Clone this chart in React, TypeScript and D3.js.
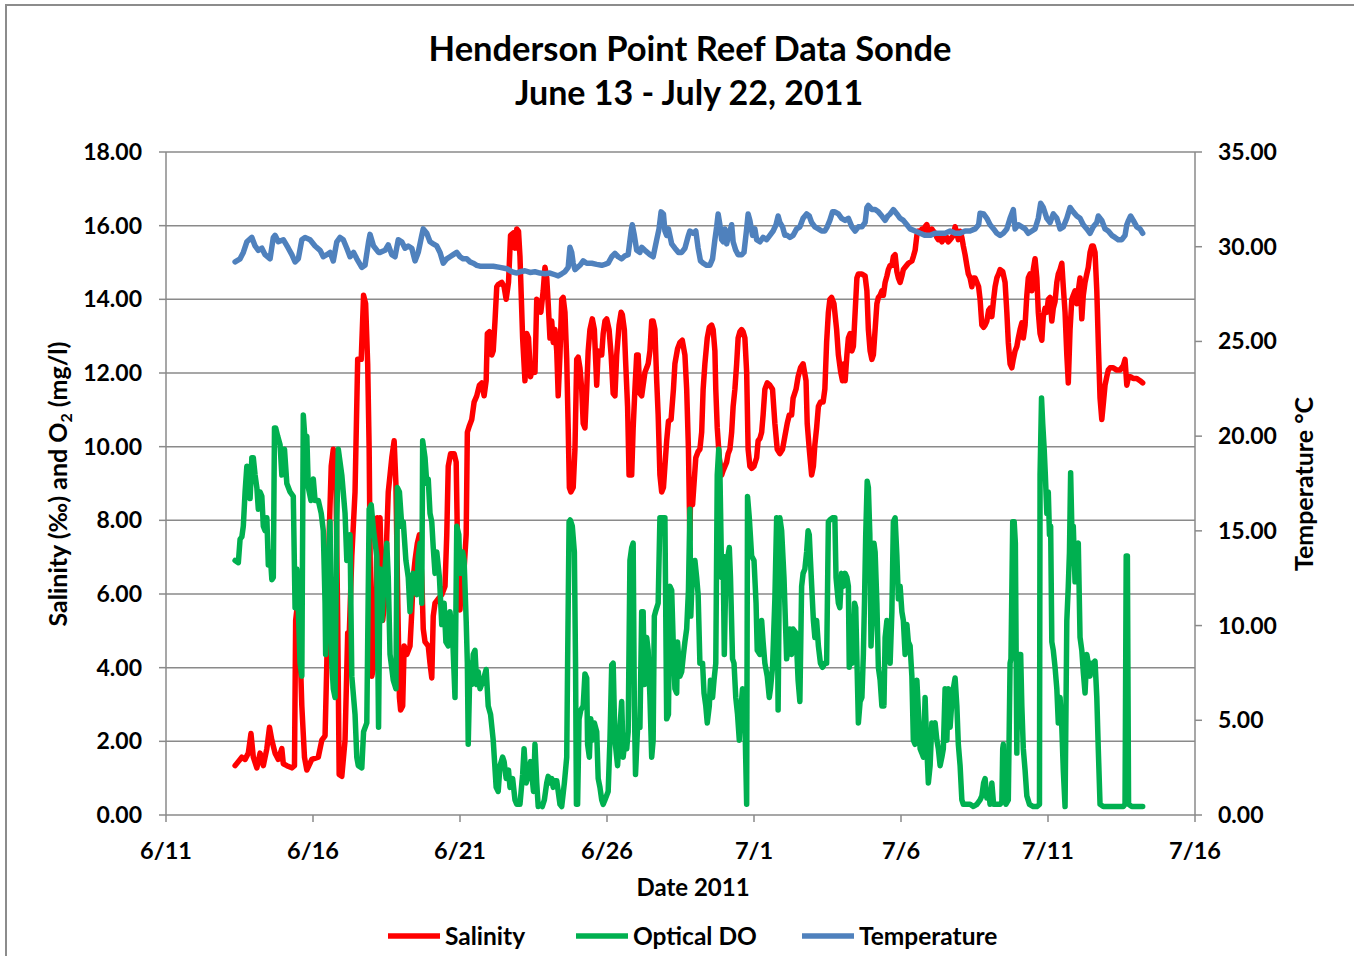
import React from "react";
import * as d3 from "d3";

// ---- data: [June-day (31 = July 1), value] ----
const salinityData: [number, number][] = [
  [13.35,1.34],[13.46,1.45],[13.58,1.57],[13.69,1.51],[13.80,1.68],[13.89,2.21],[13.97,1.57],[14.09,1.28],[14.20,1.68],[14.31,1.34],
  [14.43,1.80],[14.52,2.38],[14.60,2.03],[14.71,1.68],[14.82,1.51],[14.94,1.80],[14.99,1.39],[15.11,1.34],[15.28,1.28],[15.37,1.34],
  [15.41,5.28],[15.45,5.57],[15.53,5.28],[15.62,2.96],[15.71,1.57],[15.79,1.22],[15.96,1.51],[16.18,1.57],[16.30,2.03],[16.41,2.15],
  [16.47,4.12],[16.55,7.61],[16.62,9.47],[16.69,9.93],[16.77,9.70],[16.84,5.28],[16.89,1.10],[16.98,1.05],[17.09,2.03],[17.18,4.94],
  [17.23,4.82],[17.32,7.03],[17.43,8.77],[17.52,12.37],[17.64,12.37],[17.72,14.11],[17.79,13.88],[17.86,12.25],[17.91,9.93],[17.95,6.45],
  [18.00,3.77],[18.09,4.12],[18.19,8.07],[18.25,7.96],
  [18.28,8.07],[18.37,5.28],[18.45,5.87],[18.51,7.61],[18.56,8.77],[18.62,9.23],[18.68,9.70],[18.76,10.16],[18.82,9.00],[18.87,6.45],
  [18.94,3.19],[18.98,2.85],[19.05,2.96],[19.10,4.59],[19.19,4.36],[19.30,4.59],[19.36,5.52],[19.41,6.45],[19.47,6.91],[19.55,7.38],
  [19.62,7.61],[19.70,6.45],[19.75,5.05],[19.81,4.70],[19.92,4.59],[19.98,4.12],[20.04,3.72],[20.09,5.40],[20.15,5.75],[20.26,5.87],
  [20.38,5.98],[20.49,6.21],[20.55,7.61],[20.60,9.47],[20.68,9.81],[20.80,9.81],[20.87,9.58],[20.91,7.61],[20.96,5.63],[21.00,5.57],
  [21.06,6.45],[21.14,6.68],[21.21,7.61],[21.25,10.39],[21.32,10.57],[21.40,10.74],[21.48,11.21],[21.57,11.38],[21.66,11.67],[21.74,11.73],
  [21.82,11.38],[21.89,11.79],[21.93,13.07],[22.00,13.12],[22.08,12.49],[22.13,12.60],[22.19,13.41],[22.25,14.34],[22.30,14.40],[22.42,14.46],
  [22.50,14.34],[22.57,14.00],[22.65,14.46],[22.72,15.74],[22.81,15.80],[22.87,15.39],[22.93,15.91],[22.99,15.85],[23.04,15.16],[23.13,12.95],
  [23.21,11.79],[23.27,13.07],[23.33,12.95],[23.40,11.90],[23.47,12.14],
  [23.55,12.02],[23.61,14.00],[23.69,13.88],[23.75,13.65],[23.83,14.23],[23.89,14.87],[23.95,14.58],[24.00,13.88],[24.06,12.95],[24.12,13.41],
  [24.17,12.83],[24.23,13.18],[24.29,12.60],[24.34,11.38],[24.40,12.49],[24.46,14.00],[24.51,14.05],[24.57,13.65],[24.63,12.37],[24.68,10.51],
  [24.72,8.89],[24.77,8.77],[24.85,8.89],[24.91,9.93],[24.97,12.37],[25.02,12.43],[25.08,12.14],[25.14,11.56],[25.19,10.63],[25.25,10.51],
  [25.31,11.56],[25.36,12.60],[25.42,13.18],[25.50,13.47],[25.57,13.18],[25.65,11.67],[25.70,12.60],[25.76,12.49],[25.82,12.49],[25.87,13.07],
  [25.93,13.41],[25.99,13.47],[26.07,13.18],[26.14,12.49],[26.21,11.44],[26.27,11.38],[26.33,12.49],[26.41,13.30],[26.48,13.65],[26.52,13.59],
  [26.59,13.18],[26.63,12.37],[26.70,11.09],[26.75,9.23],[26.84,9.23],[26.89,10.51],[26.95,11.56],[27.01,12.49],[27.06,12.49],[27.12,11.44],
  [27.18,11.38],[27.23,11.67],[27.29,12.02],[27.35,12.14],[27.40,12.25],[27.46,12.60],[27.52,13.41],[27.57,13.41],[27.63,13.18],[27.69,11.79],
  [27.74,10.86],[27.80,9.23],[27.86,8.77],[27.92,8.89],[27.97,9.47],[28.03,10.16],[28.09,10.69],[28.18,10.74],[28.26,11.56],[28.31,12.25],
  [28.40,12.66],[28.48,12.83],[28.56,12.89],[28.65,12.49],[28.71,11.56],[28.77,9.93],
  [28.82,7.49],[28.85,9.12],[28.91,8.42],[28.96,9.00],[29.02,9.70],[29.10,9.87],[29.16,9.93],[29.22,10.39],[29.27,11.56],[29.33,12.25],
  [29.41,12.95],[29.48,13.24],[29.56,13.30],[29.61,13.18],[29.67,12.60],[29.70,11.56],[29.75,10.51],[29.82,9.70],[29.90,9.23],[29.95,9.35],
  [30.07,9.58],[30.12,9.81],[30.18,9.93],[30.24,10.39],[30.29,11.09],[30.35,11.56],[30.41,12.25],[30.46,12.95],[30.52,13.12],[30.58,13.18],
  [30.63,13.12],[30.69,12.95],[30.75,12.02],[30.80,9.93],[30.86,9.47],[30.92,9.41],[31.00,9.47],[31.09,9.70],[31.14,10.16],[31.20,10.22],
  [31.26,10.39],[31.31,10.86],[31.37,11.56],[31.45,11.73],[31.54,11.67],[31.63,11.56],[31.71,10.63],[31.79,9.93],[31.88,9.81],[31.97,9.93],
  [32.05,10.28],[32.13,10.63],[32.20,10.86],[32.28,10.86],[32.33,11.32],[32.43,11.56],[32.50,11.90],[32.58,12.14],[32.67,12.25],[32.77,11.79],
  [32.81,10.63],[32.88,9.93],[32.96,9.23],[33.02,9.47],[33.07,10.05],[33.13,10.51],[33.19,11.09],[33.26,11.21],[33.35,11.21],[33.41,11.56],
  [33.47,12.83],[33.53,13.65],[33.58,14.00],[33.64,14.05],[33.72,13.88],[33.81,13.18],[33.87,12.49],[33.95,12.02],[34.01,11.79],[34.06,12.25],
  [34.10,11.79],[34.16,12.49],[34.21,12.95],[34.27,13.07],[34.33,12.60],[34.38,12.72],[34.44,13.65],[34.50,14.58],[34.55,14.69],[34.67,14.69],
  [34.78,14.63],[34.84,14.23],[34.89,13.18],[34.95,12.60],[35.01,12.37],[35.06,12.49],[35.12,13.18],[35.18,13.88],[35.23,14.05],[35.29,14.11],
  [35.35,14.23],[35.40,14.11],[35.46,14.46],[35.52,14.63],[35.57,14.81],[35.63,14.92],[35.69,14.92],[35.74,15.16],[35.80,15.21],[35.86,14.75],
  [35.91,14.58],[35.97,14.46],[36.03,14.63],[36.08,14.81],[36.14,14.87],[36.25,14.98],[36.37,15.04],[36.42,15.16],[36.48,15.33],[36.54,15.74],
  [36.59,15.85],[36.65,15.80],[36.71,15.91],[36.76,15.85],[36.82,15.97],[36.88,16.03],[36.93,15.85],[36.99,15.80],[37.05,15.91],[37.10,15.85],
  [37.16,15.80],[37.22,15.68],[37.27,15.62],[37.33,15.74],[37.39,15.56],[37.44,15.68],[37.50,15.62],[37.56,15.68],[37.61,15.56],[37.67,15.62],
  [37.73,15.68],[37.78,15.74],[37.84,15.97],[37.90,15.80],[37.95,15.62],[38.01,15.85],[38.07,15.68],[38.12,15.45],[38.18,15.21],[38.24,14.92],
  [38.29,14.69],[38.35,14.58],[38.41,14.34],[38.46,14.58],[38.52,14.58],[38.58,14.46],[38.64,14.34],[38.69,14.00],[38.75,13.30],[38.81,13.24],
  [38.86,13.30],[38.92,13.41],[38.98,13.70],[39.03,13.76],[39.09,13.53],[39.15,14.00],[39.20,14.34],[39.26,14.58],[39.32,14.69],
  [39.37,14.81],[39.46,14.75],[39.54,14.46],[39.60,13.65],[39.65,12.83],[39.71,12.25],[39.77,12.14],[39.82,12.37],[39.88,12.60],[39.94,12.72],
  [39.99,12.95],[40.05,13.18],[40.11,13.36],[40.16,12.95],[40.22,13.30],[40.28,14.11],[40.33,14.58],[40.39,14.69],[40.45,14.23],[40.50,14.81],
  [40.56,15.10],[40.62,14.58],[40.67,13.65],[40.73,13.07],[40.79,12.89],[40.84,13.53],[40.90,13.76],[40.96,13.65],[41.01,14.00],[41.07,14.05],
  [41.13,13.41],[41.18,13.76],[41.24,13.94],[41.30,14.46],[41.35,14.69],[41.41,14.81],[41.47,14.98],[41.52,14.34],[41.58,13.65],[41.64,12.49],
  [41.69,11.73],[41.75,13.18],[41.81,14.00],[41.86,14.11],[41.92,14.23],[41.98,13.88],[42.03,14.23],[42.09,14.58],[42.15,13.47],[42.20,14.11],
  [42.26,14.46],[42.32,14.69],[42.37,14.87],[42.43,15.27],[42.49,15.45],[42.54,15.45],[42.60,15.27],[42.66,14.23],[42.71,12.83],[42.77,11.32],
  [42.83,10.74],[42.88,11.15],[42.94,11.67],[43.00,11.90],[43.05,12.08],[43.11,12.14],[43.22,12.14],[43.34,12.08],[43.45,12.08],[43.56,12.20],
  [43.62,12.37],[43.68,11.67],[43.74,11.90],[43.81,11.90],[43.90,11.85],[44.02,11.85],[44.13,11.79],[44.22,11.73],
];

const oxygenData: [number, number][] = [
  [13.35,6.91],[13.46,6.85],[13.52,7.49],[13.58,7.55],[13.63,7.84],[13.69,8.77],[13.75,9.47],[13.80,9.41],[13.86,8.59],[13.92,9.70],
  [13.97,9.70],[14.03,9.23],[14.09,8.89],[14.14,8.30],[14.20,8.77],[14.26,8.65],[14.31,7.84],[14.37,7.72],[14.43,8.07],[14.48,6.79],
  [14.54,7.14],[14.60,6.39],[14.65,6.45],[14.69,10.51],[14.73,10.51],[14.80,10.28],[14.88,10.05],[14.94,9.23],[15.03,9.93],[15.11,9.00],
  [15.22,8.77],[15.33,8.65],[15.39,5.63],[15.45,6.68],[15.50,5.63],[15.56,4.12],[15.62,3.77],[15.67,10.86],[15.73,10.16],[15.79,10.28],
  [15.84,8.89],[15.93,8.54],[16.01,9.12],[16.07,8.54],[16.18,8.54],[16.28,8.19],[16.35,7.72],[16.41,5.75],[16.43,4.36],[16.52,6.45],
  [16.58,7.96],[16.64,4.12],[16.69,3.43],[16.75,3.19],[16.81,7.96],[16.86,9.93],[16.98,9.23],[17.09,8.19],[17.15,6.91],[17.26,7.61],
  [17.32,3.77],[17.43,2.73],[17.49,1.57],[17.54,1.34],[17.66,1.28],[17.72,2.26],[17.83,2.50],[17.91,8.30],[17.98,8.42],[18.06,7.72],
  [18.17,7.03],[18.23,2.38],
  [18.28,6.68],[18.34,5.28],[18.39,5.98],[18.45,6.68],[18.51,7.38],[18.56,6.45],[18.62,4.36],[18.73,3.66],[18.82,3.43],[18.87,8.89],
  [18.94,8.77],[19.02,7.84],[19.07,7.96],[19.16,6.91],[19.24,6.45],[19.30,5.52],[19.36,6.21],[19.41,6.56],[19.47,6.45],[19.53,5.98],
  [19.58,7.03],[19.64,7.38],[19.70,5.75],[19.73,10.16],[19.81,9.70],[19.87,9.00],[19.92,9.12],[19.98,8.19],[20.04,7.96],[20.09,7.26],
  [20.15,6.56],[20.21,7.14],[20.30,6.45],[20.38,5.17],[20.46,5.75],[20.52,4.70],[20.60,4.59],[20.66,5.52],[20.75,4.82],[20.83,3.19],
  [20.89,7.84],[20.96,7.61],[21.00,6.56],[21.09,7.14],[21.14,6.91],[21.21,5.28],[21.25,4.12],[21.28,1.92],[21.34,4.12],[21.40,3.54],
  [21.45,4.36],[21.51,4.47],[21.57,3.54],[21.62,3.89],[21.68,3.43],[21.79,3.66],[21.89,3.95],[21.96,2.96],[22.04,2.73],[22.13,2.03],
  [22.23,0.75],[22.30,0.64],[22.36,1.34],[22.45,1.57],[22.50,1.45],[22.57,0.99],[22.65,1.22],[22.70,0.75],[22.79,0.99],[22.87,0.41],
  [22.93,0.29],[23.04,0.29],[23.13,1.10],[23.18,1.80],[23.25,0.87],[23.33,1.10],[23.40,1.45],[23.50,0.64],
  [23.55,1.92],[23.61,0.87],[23.66,0.23],[23.72,0.29],[23.80,0.23],[23.87,0.41],[23.95,0.87],[24.00,1.05],[24.06,0.87],[24.12,0.99],
  [24.17,0.75],[24.23,0.93],[24.29,0.93],[24.34,0.64],[24.40,0.29],[24.46,0.23],[24.55,0.87],[24.63,1.57],[24.66,4.12],[24.71,7.96],
  [24.75,8.01],[24.82,7.84],[24.89,7.14],[24.93,4.12],[24.96,0.29],[25.00,0.29],[25.05,2.61],[25.11,2.85],[25.19,2.96],[25.25,3.83],
  [25.31,3.72],[25.34,1.92],[25.40,1.57],[25.45,2.61],[25.50,2.03],[25.57,2.50],[25.65,2.26],[25.70,0.99],[25.76,0.75],[25.82,0.41],
  [25.87,0.29],[25.93,0.41],[26.04,0.64],[26.10,2.03],[26.16,4.07],[26.21,4.12],[26.27,2.03],[26.36,1.34],[26.44,2.38],[26.50,3.08],
  [26.55,1.57],[26.61,2.03],[26.67,1.80],[26.72,2.26],[26.78,6.91],[26.84,7.26],[26.89,7.38],[26.93,2.96],[26.97,1.10],[27.04,2.38],
  [27.12,2.38],[27.18,5.52],[27.23,5.52],[27.27,3.54],[27.35,4.82],[27.40,4.47],[27.46,3.19],[27.52,1.57],[27.57,2.03],[27.61,5.40],
  [27.65,5.52],[27.74,5.75],[27.80,8.07],[27.88,8.07],[27.97,8.07],[28.03,2.61],[28.09,2.73],[28.14,6.21],[28.20,6.10],[28.26,4.47],
  [28.31,3.43],[28.37,3.31],[28.40,4.70],[28.48,3.77],[28.54,3.89],[28.60,4.36],[28.65,4.70],[28.71,5.05],[28.77,6.10],
  [28.82,8.30],[28.85,5.40],[28.91,6.68],[28.99,6.91],[29.05,6.45],[29.10,5.98],[29.16,4.12],[29.25,4.12],[29.30,3.31],[29.36,2.96],
  [29.41,2.50],[29.48,2.96],[29.52,3.66],[29.59,3.19],[29.64,3.66],[29.70,4.12],[29.75,9.23],[29.80,9.93],[29.84,9.35],[29.90,6.45],
  [29.95,7.03],[29.99,4.36],[30.04,6.45],[30.09,6.91],[30.16,7.26],[30.20,6.45],[30.27,4.24],[30.32,4.12],[30.38,3.19],[30.44,2.73],
  [30.50,2.03],[30.54,2.73],[30.61,3.43],[30.69,2.61],[30.75,0.29],[30.78,8.65],[30.84,8.07],[30.92,7.03],[31.00,6.91],[31.07,5.75],
  [31.11,4.47],[31.20,4.36],[31.26,5.28],[31.31,4.70],[31.37,4.12],[31.45,3.77],[31.52,3.19],[31.56,3.43],[31.63,4.01],[31.71,5.87],
  [31.77,8.07],[31.82,2.85],[31.88,8.07],[31.94,7.72],[32.02,6.45],[32.11,4.24],[32.16,4.59],[32.22,5.05],[32.28,4.36],[32.33,5.05],
  [32.43,4.94],[32.50,3.66],[32.56,3.08],[32.62,6.21],[32.67,6.56],[32.73,6.68],[32.79,7.14],[32.84,7.72],[32.88,7.61],[32.92,6.91],
  [33.02,5.28],[33.07,4.82],[33.13,5.28],[33.19,4.59],[33.26,4.12],[33.33,4.01],[33.41,4.12],[33.47,4.12],[33.53,7.96],[33.58,8.01],
  [33.67,8.07],[33.75,8.07],[33.79,6.45],[33.87,5.75],[33.92,5.63],[33.98,6.56],[34.04,6.21],
  [34.10,6.56],[34.16,6.45],[34.21,6.21],[34.24,4.01],[34.27,4.36],[34.33,4.12],[34.38,4.70],[34.42,5.75],[34.46,5.63],[34.51,3.89],
  [34.55,2.50],[34.61,3.08],[34.67,3.19],[34.72,4.36],[34.76,5.87],[34.80,7.61],[34.85,9.06],[34.89,8.89],[34.94,7.61],[34.98,4.59],
  [35.03,5.52],[35.08,7.38],[35.12,7.14],[35.18,5.75],[35.23,4.01],[35.29,3.66],[35.35,2.96],[35.38,3.43],[35.42,2.96],[35.46,4.82],
  [35.52,5.28],[35.57,4.70],[35.63,4.12],[35.69,5.52],[35.74,7.96],[35.80,8.07],[35.86,7.03],[35.91,5.87],[35.97,6.21],[36.03,5.52],
  [36.08,5.28],[36.14,4.36],[36.20,5.17],[36.25,4.70],[36.31,4.59],[36.37,3.77],[36.42,2.03],[36.48,1.92],[36.54,3.66],[36.59,2.85],
  [36.65,1.80],[36.71,1.68],[36.76,1.57],[36.82,3.19],[36.88,1.80],[36.93,0.87],[36.99,1.34],[37.05,2.50],[37.10,2.38],[37.16,2.50],
  [37.22,2.03],[37.27,1.80],[37.33,1.34],[37.39,1.57],[37.44,1.80],[37.50,3.43],[37.56,2.03],[37.61,3.43],[37.67,2.38],[37.73,3.08],
  [37.78,3.43],[37.84,3.72],[37.90,2.96],[37.95,1.92],[38.01,1.34],[38.07,0.41],[38.12,0.29],[38.24,0.29],[38.35,0.29],[38.46,0.23],
  [38.58,0.29],[38.69,0.41],[38.75,0.52],[38.81,0.87],[38.86,0.99],[38.92,0.46],[38.98,0.64],[39.03,0.29],[39.09,0.87],[39.15,0.29],
  [39.26,0.29],
  [39.37,0.29],[39.43,0.35],[39.46,1.80],[39.48,1.92],[39.52,0.52],[39.57,0.29],[39.65,0.41],[39.71,4.12],[39.74,4.24],[39.80,7.96],
  [39.85,7.96],[39.89,7.38],[39.94,1.68],[39.97,3.89],[40.03,4.36],[40.07,4.36],[40.11,2.96],[40.16,1.80],[40.22,1.22],[40.28,0.52],
  [40.37,0.29],[40.50,0.23],[40.62,0.23],[40.71,0.29],[40.73,9.23],[40.78,11.32],[40.82,10.63],[40.87,9.93],[40.91,9.23],[40.96,8.19],
  [41.01,8.77],[41.05,7.61],[41.09,7.84],[41.13,4.70],[41.18,4.47],[41.24,4.01],[41.30,3.43],[41.35,2.50],[41.41,3.19],[41.47,2.38],
  [41.52,1.22],[41.58,0.23],[41.64,5.28],[41.69,6.21],[41.73,7.14],[41.77,9.29],[41.81,7.84],[41.86,7.84],[41.92,6.33],[41.98,7.26],
  [42.03,7.38],[42.09,4.82],[42.15,4.47],[42.20,3.89],[42.26,3.31],[42.32,4.36],[42.37,4.12],[42.43,3.77],[42.49,4.12],[42.54,4.12],
  [42.60,4.18],[42.66,3.19],[42.71,1.80],[42.77,0.29],[42.88,0.23],[43.11,0.23],[43.34,0.23],[43.56,0.23],[43.62,0.29],[43.66,7.03],
  [43.70,7.03],[43.74,0.29],[43.85,0.23],[44.02,0.23],[44.22,0.23],
];

const temperatureData: [number, number][] = [
  [13.35,29.20],[13.52,29.36],[13.63,29.70],[13.75,30.26],[13.92,30.49],[14.03,30.04],[14.14,29.81],[14.26,29.92],[14.37,29.58],[14.54,29.36],
  [14.65,30.49],[14.71,30.60],[14.82,30.26],[14.99,30.37],[15.16,29.92],[15.28,29.58],[15.39,29.20],[15.50,29.36],[15.62,30.37],[15.73,30.49],
  [15.90,30.37],[16.07,30.04],[16.24,29.81],[16.35,29.47],[16.47,29.58],[16.58,29.70],[16.69,29.25],[16.81,30.26],[16.92,30.49],[17.03,30.37],
  [17.15,29.92],[17.26,29.47],[17.38,29.70],[17.49,29.36],[17.66,28.91],[17.77,29.02],[17.89,30.26],[17.94,30.65],[18.06,30.04],[18.23,29.70],
  [18.28,29.70],[18.45,29.81],[18.56,30.10],[18.68,29.58],[18.79,29.47],[18.90,30.37],[19.02,30.26],[19.13,29.92],[19.24,30.04],[19.36,29.92],
  [19.47,29.25],[19.58,29.70],[19.70,30.60],[19.75,30.94],[19.87,30.71],[19.98,30.26],[20.09,30.15],[20.21,30.04],[20.32,29.70],[20.43,29.13],
  [20.55,29.36],[20.66,29.47],[20.77,29.58],[20.89,29.70],[21.00,29.47],[21.11,29.36],[21.23,29.36],[21.34,29.20],[21.45,29.13],[21.57,29.02],
  [21.68,28.97],[21.91,28.97],[22.13,28.97],[22.36,28.91],[22.59,28.84],[22.76,28.68],[22.93,28.61],[23.04,28.68],[23.21,28.73],[23.38,28.64],
  [23.55,28.68],[23.72,28.61],[23.89,28.57],[24.06,28.61],[24.23,28.52],[24.34,28.46],[24.46,28.57],[24.57,28.68],[24.68,28.91],[24.74,29.97],
  [24.80,29.70],[24.85,29.13],[24.91,28.79],[25.08,29.02],[25.19,29.25],[25.31,29.13],[25.48,29.13],[25.65,29.07],[25.82,29.02],[25.93,29.07],
  [26.04,29.13],[26.16,29.47],[26.27,29.65],[26.38,29.47],[26.50,29.36],[26.61,29.52],[26.72,29.58],[26.82,30.83],[26.86,31.16],[26.93,30.60],
  [27.01,29.81],[27.12,29.70],[27.18,29.97],[27.29,29.81],[27.46,29.58],[27.57,29.47],[27.69,30.37],[27.77,30.94],[27.84,31.84],[27.92,31.73],
  [27.97,30.83],[28.03,30.60],[28.09,30.94],[28.20,30.15],[28.31,29.92],[28.43,29.70],[28.54,29.70],[28.65,29.92],[28.77,30.60],
  [28.82,30.83],[28.93,30.71],[29.02,30.83],[29.10,29.92],[29.18,29.25],[29.27,29.13],[29.39,29.02],[29.50,29.02],[29.59,29.36],[29.67,30.37],
  [29.73,31.05],[29.78,31.73],[29.84,31.16],[29.90,30.37],[29.95,30.26],[30.01,30.94],[30.07,30.15],[30.12,30.49],[30.24,31.16],[30.29,30.26],
  [30.38,29.81],[30.46,29.58],[30.58,29.58],[30.66,29.70],[30.75,30.94],[30.80,31.73],[30.86,31.39],[30.95,30.60],[31.03,30.94],[31.09,30.37],
  [31.20,30.26],[31.31,30.49],[31.43,30.37],[31.54,30.60],[31.65,30.83],[31.75,31.16],[31.82,31.62],[31.88,31.28],[31.97,31.05],[32.05,30.60],
  [32.13,30.60],[32.22,30.49],[32.33,30.60],[32.45,30.94],[32.56,31.05],[32.67,31.50],[32.79,31.73],[32.88,31.62],[32.96,31.28],[33.07,31.05],
  [33.19,30.94],[33.30,30.83],[33.41,30.83],[33.49,31.05],[33.58,31.39],[33.67,31.84],[33.75,31.84],[33.87,31.73],[33.98,31.50],
  [34.10,31.39],[34.21,31.50],[34.33,31.05],[34.44,30.83],[34.55,31.05],[34.67,31.05],[34.78,31.28],[34.84,32.07],[34.89,32.18],[35.01,31.96],
  [35.12,31.96],[35.23,31.84],[35.35,31.62],[35.46,31.39],[35.55,31.62],[35.63,31.73],[35.74,31.96],[35.86,31.73],[35.97,31.50],[36.08,31.39],
  [36.20,31.16],[36.31,30.94],[36.48,30.83],[36.65,30.71],[36.82,30.60],[36.99,30.60],[37.16,30.71],[37.33,30.71],[37.50,30.71],[37.67,30.83],
  [37.84,30.71],[38.01,30.71],[38.18,30.83],[38.35,30.83],[38.52,30.94],[38.64,31.16],[38.69,31.77],[38.81,31.73],[38.92,31.50],[39.03,31.16],
  [39.15,30.94],[39.26,30.71],
  [39.37,30.60],[39.48,30.71],[39.60,30.94],[39.71,31.50],[39.82,31.96],[39.88,30.94],[39.99,31.16],[40.11,31.05],[40.22,30.94],[40.33,30.71],
  [40.45,30.83],[40.56,30.94],[40.67,31.50],[40.75,32.29],[40.84,32.07],[40.96,31.50],[41.07,31.28],[41.18,31.73],[41.30,31.50],[41.41,30.94],
  [41.52,31.05],[41.64,31.50],[41.75,32.07],[41.86,31.84],[41.98,31.62],[42.09,31.50],[42.20,31.16],[42.32,30.94],[42.43,30.71],[42.54,31.05],
  [42.66,31.28],[42.71,31.62],[42.83,31.39],[42.94,30.94],[43.05,30.83],[43.17,30.60],[43.28,30.49],[43.39,30.37],[43.51,30.37],[43.62,30.60],
  [43.68,31.16],[43.74,31.39],[43.81,31.62],[43.90,31.39],[44.02,31.05],[44.13,30.94],[44.22,30.71],
];

const leftTicks = [0, 2, 4, 6, 8, 10, 12, 14, 16, 18];
const rightTicks = [0, 5, 10, 15, 20, 25, 30, 35];
const dateTickLabels = ["6/11", "6/16", "6/21", "6/26", "7/1", "7/6", "7/11", "7/16"];
const dateTickDays = [11, 16, 21, 26, 31, 36, 41, 46];

const seriesNames = ["Salinity", "Optical DO", "Temperature"];
const seriesColors = ["#FF0000", "#00B050", "#4F81BD"];

const FONT = "Lato, 'Open Sans', sans-serif";
const DAY = 86400000;
const toTime = (j: number) => new Date(Date.UTC(2011, 5, 1) + (j - 1) * DAY);

export default function App() {
  const W = 1354, H = 956;
  const L = 166, R = 1195, T = 152, B = 815;
  const x = d3.scaleUtc().domain([toTime(11), toTime(46)]).range([L, R]);
  const yL = d3.scaleLinear().domain([0, 18]).range([B, T]);
  const yR = d3.scaleLinear().domain([0, 35]).range([B, T]);

  const lineL = d3.line<[number, number]>().x(d => x(toTime(d[0]))).y(d => yL(d[1]));
  const lineR = d3.line<[number, number]>().x(d => x(toTime(d[0]))).y(d => yR(d[1]));

  const grid = "#8A8A8A";
  const legendItems = [
    { x0: 388, tx: 445 },
    { x0: 576, tx: 633 },
    { x0: 802, tx: 859 },
  ];
  const SW = 5.5;

  return (
    <svg width={W} height={H} style={{ position: "absolute", left: 0, top: 0, background: "#fff" }} fontFamily={FONT} fontWeight="bold">
      <rect x={0} y={0} width={W} height={H} fill="#fff" />
      <line x1={6} y1={5} x2={W} y2={5} stroke="#8C8C8C" strokeWidth={2} />
      <line x1={6} y1={4} x2={6} y2={H} stroke="#8C8C8C" strokeWidth={2} />

      {/* title */}
      <text x={690} y={61} textAnchor="middle" fontSize={34.5} fill="#000">Henderson Point Reef Data Sonde</text>
      <text x={689} y={105} textAnchor="middle" fontSize={34} fill="#000">June 13 - July 22, 2011</text>

      {/* gridlines */}
      {leftTicks.map(t => (
        <line key={"g" + t} x1={L} x2={R} y1={yL(t)} y2={yL(t)} stroke={grid} strokeWidth={1.5} />
      ))}
      {/* axes */}
      <line x1={L} x2={L} y1={T} y2={B} stroke={grid} strokeWidth={1.5} />
      <line x1={R} x2={R} y1={T} y2={B} stroke={grid} strokeWidth={1.5} />
      {leftTicks.map(t => (
        <g key={"lt" + t}>
          <line x1={L - 7} x2={L} y1={yL(t)} y2={yL(t)} stroke={grid} strokeWidth={1.5} />
          <text x={142} y={yL(t) + 8} textAnchor="end" fontSize={23} fill="#000">{t.toFixed(2)}</text>
        </g>
      ))}
      {rightTicks.map(t => (
        <g key={"rt" + t}>
          <line x1={R} x2={R + 7} y1={yR(t)} y2={yR(t)} stroke={grid} strokeWidth={1.5} />
          <text x={1218} y={yR(t) + 8} textAnchor="start" fontSize={23} fill="#000">{t.toFixed(2)}</text>
        </g>
      ))}
      {dateTickDays.map((d, i) => (
        <g key={"xt" + d}>
          <line x1={x(toTime(d))} x2={x(toTime(d))} y1={B} y2={B + 7} stroke={grid} strokeWidth={1.5} />
          <text x={x(toTime(d))} y={859} textAnchor="middle" fontSize={23.5} fill="#000">{dateTickLabels[i]}</text>
        </g>
      ))}

      {/* axis titles */}
      <text x={693} y={896} textAnchor="middle" fontSize={24} fill="#000">Date 2011</text>
      <text transform="translate(67,484) rotate(-90)" textAnchor="middle" fontSize={25} fill="#000">
        Salinity (‰) and O<tspan fontSize={16} dy={5}>2</tspan><tspan dy={-5}> (mg/l)</tspan>
      </text>
      <text transform="translate(1313,484) rotate(-90)" textAnchor="middle" fontSize={25} fill="#000">Temperature °C</text>

      {/* series */}
      <path d={lineL(salinityData) || ""} fill="none" stroke={seriesColors[0]} strokeWidth={SW} strokeLinejoin="round" strokeLinecap="round" />
      <path d={lineL(oxygenData) || ""} fill="none" stroke={seriesColors[1]} strokeWidth={SW} strokeLinejoin="round" strokeLinecap="round" />
      <path d={lineR(temperatureData) || ""} fill="none" stroke={seriesColors[2]} strokeWidth={SW} strokeLinejoin="round" strokeLinecap="round" />

      {/* legend */}
      {legendItems.map((it, i) => (
        <g key={"lg" + i}>
          <line x1={it.x0} x2={it.x0 + 52} y1={936} y2={936} stroke={seriesColors[i]} strokeWidth={5.5} />
          <text x={it.tx} y={945} fontSize={24.5} fill="#000">{seriesNames[i]}</text>
        </g>
      ))}
    </svg>
  );
}
